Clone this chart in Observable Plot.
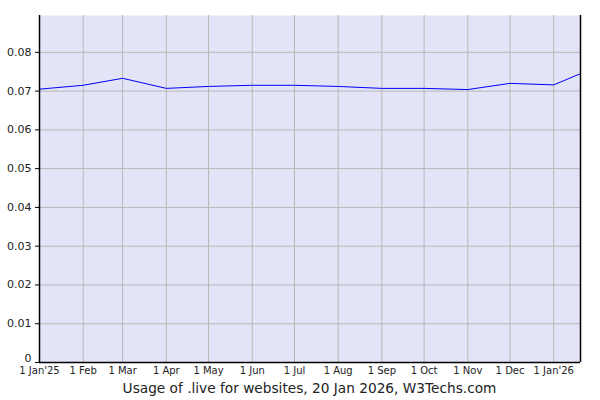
<!DOCTYPE html>
<html><head><meta charset="utf-8">
<script src="https://cdn.jsdelivr.net/npm/d3@7"></script>
<script src="https://cdn.jsdelivr.net/npm/@observablehq/plot@0.6"></script>
<style>
body{margin:0;background:#fff;font-family:"DejaVu Sans",sans-serif;}
#cap{box-sizing:border-box;width:600px;padding-left:39px;padding-right:20px;text-align:center;font-size:13.7px;line-height:20px;color:#222;white-space:nowrap;}
</style></head>
<body>
<div id="chart"></div>
<div id="cap">Usage of .live for websites, 20 Jan 2026, W3Techs.com</div>
<script>
const dates = ["2025-01-01","2025-02-01","2025-03-01","2025-04-01","2025-05-01","2025-06-01","2025-07-01","2025-08-01","2025-09-01","2025-10-01","2025-11-01","2025-12-01","2026-01-01","2026-01-20"];
const values = [0.0705,0.0715,0.0733,0.0707,0.0712,0.0715,0.0715,0.0712,0.0707,0.0707,0.0704,0.0720,0.0716,0.0745];
const xTicks = ["2025-01-01","2025-02-01","2025-03-01","2025-04-01","2025-05-01","2025-06-01","2025-07-01","2025-08-01","2025-09-01","2025-10-01","2025-11-01","2025-12-01","2026-01-01"];
const xTickLabels = ["1 Jan'25","1 Feb","1 Mar","1 Apr","1 May","1 Jun","1 Jul","1 Aug","1 Sep","1 Oct","1 Nov","1 Dec","1 Jan'26"];
const yTicks = [0,0.01,0.02,0.03,0.04,0.05,0.06,0.07,0.08];

const data = dates.map((d,i)=>({date:new Date(d+"T00:00:00Z"), value:values[i]}));
const xt = xTicks.map(d=>new Date(d+"T00:00:00Z"));
const labelOf = new Map(xt.map((d,i)=>[+d, xTickLabels[i]]));
const x0 = data[0].date, x1 = data[data.length-1].date;

const chart = Plot.plot({
  width:600, height:378,
  marginLeft:39, marginRight:20, marginTop:15, marginBottom:16,
  style:{fontFamily:"DejaVu Sans", fontSize:"11px", color:"#222", background:"#fff"},
  x:{type:"utc", domain:[x0,x1], label:null},
  y:{domain:[0,0.0895], label:null},
  marks:[
    Plot.frame({fill:"#e4e4f8", stroke:null}),
    Plot.ruleX(xt, {stroke:"#b8b8b8", strokeWidth:1}),
    Plot.ruleY(yTicks.slice(1), {stroke:"#b8b8b8", strokeWidth:1}),
    Plot.line(data, {x:"date", y:"value", stroke:"#0000ff", strokeWidth:1}),
    Plot.ruleX([x0, x1], {stroke:"#000", strokeWidth:1.5}),
    Plot.ruleY([0], {stroke:"#000", strokeWidth:1.5}),
    Plot.axisY(yTicks.slice(1), {tickSize:4, tickPadding:4, tickFormat:d=>d.toFixed(2), fontSize:11, stroke:"#000", label:null}),
    Plot.tickY([0], {y:d=>d, frameAnchor:"left", dx:-4, stroke:"#000", inset:0}),
    Plot.text([0], {y:d=>d, text:()=>"0", frameAnchor:"left", textAnchor:"end", dx:-8, dy:-4, fontSize:11, fill:"#222"}),
    Plot.axisX(xt, {tickSize:0, tickPadding:4, tickFormat:d=>labelOf.get(+d), fontSize:10, style:{letterSpacing:"-0.4px"}, label:null})
  ]
});
document.getElementById("chart").appendChild(chart);
</script>
</body></html>
